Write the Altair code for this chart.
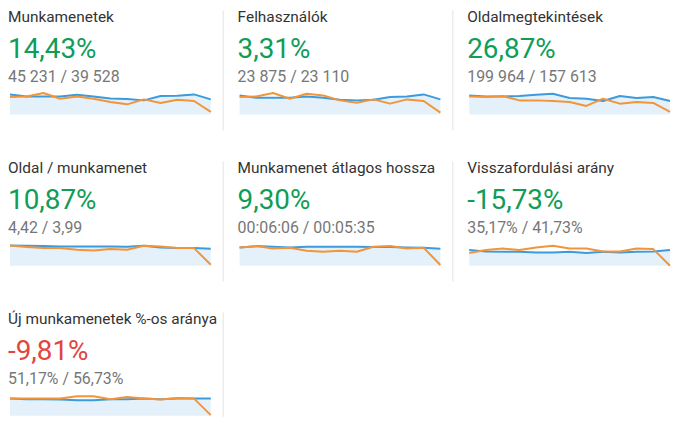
import altair as alt
import pandas as pd

titles = ["Munkamenetek", "Felhasználók", "Oldalmegtekintések", "Oldal / munkamenet",
          "Munkamenet átlagos hossza", "Visszafordulási arány", "Új munkamenetek %-os aránya"]
changes = ["14,43%", "3,31%", "26,87%", "10,87%", "9,30%", "-15,73%", "-9,81%"]
change_good = [True, True, True, True, True, True, False]
compare = ["45 231 / 39 528", "23 875 / 23 110", "199 964 / 157 613", "4,42 / 3,99",
           "00:06:06 / 00:05:35", "35,17% / 41,73%", "51,17% / 56,73%"]

days = list(range(13))

current_1 = [20.3, 18.3, 18.3, 18.3, 20.0, 18.3, 16.3, 15.7, 14.3, 18.7, 19.0, 20.3, 15.3]
previous_1 = [17.7, 18.3, 21.7, 16.0, 18.3, 16.0, 12.7, 10.3, 15.3, 11.7, 15.0, 13.7, 2.7]
current_2 = [19.3, 17.0, 17.0, 17.0, 18.3, 17.0, 15.0, 14.3, 15.0, 17.7, 18.3, 20.3, 15.3]
previous_2 = [17.7, 18.3, 21.7, 16.0, 21.0, 19.3, 14.3, 12.0, 15.3, 11.0, 15.3, 13.7, 2.0]
current_3 = [19.3, 18.3, 18.3, 18.7, 20.0, 21.0, 16.7, 16.0, 13.7, 18.7, 16.7, 17.7, 13.7]
previous_3 = [18.3, 17.7, 18.7, 14.3, 14.3, 13.7, 12.7, 8.7, 16.0, 11.0, 12.7, 11.7, 2.7]
current_4 = [20.3, 20.0, 19.7, 19.3, 19.3, 19.3, 19.3, 19.0, 20.0, 18.3, 17.7, 17.7, 17.0]
previous_4 = [20.3, 18.7, 17.7, 17.7, 16.0, 15.3, 16.7, 16.0, 20.0, 19.3, 17.7, 17.7, 1.0]
current_5 = [18.3, 19.7, 19.0, 18.3, 19.0, 19.0, 19.0, 19.0, 18.7, 18.7, 18.3, 18.0, 17.0]
previous_5 = [18.3, 19.7, 17.3, 18.0, 15.0, 14.0, 15.0, 14.0, 19.0, 19.7, 17.3, 18.0, 0.7]
current_6 = [15.7, 14.3, 14.0, 14.0, 13.3, 13.3, 14.0, 12.7, 14.0, 13.3, 14.0, 14.3, 15.7]
previous_6 = [12.7, 15.7, 17.3, 15.7, 18.3, 20.0, 17.3, 17.3, 14.3, 14.3, 17.3, 16.7, 0.0]
current_7 = [17.3, 16.7, 16.7, 16.3, 15.7, 15.7, 16.7, 16.7, 17.3, 16.7, 17.3, 17.3, 17.3]
previous_7 = [17.3, 17.3, 17.3, 17.3, 19.7, 19.7, 16.7, 19.0, 17.3, 16.3, 18.0, 17.3, 0.7]

currents = [current_1, current_2, current_3, current_4, current_5, current_6, current_7]
previouses = [previous_1, previous_2, previous_3, previous_4, previous_5, previous_6, previous_7]

BLUE = "#3d9bdb"
ORANGE = "#f2953a"
FILL = "#e4f1fb"
GREEN = "#0f9d58"
RED = "#e2453c"
FONT = "Roboto"


def panel(i, width, height, border, spark_bottom):
    df = pd.DataFrame({"day": days, "current": currents[i], "previous": previouses[i]})
    xs = alt.Scale(domain=[0, 12], range=[1, 203])
    ys = alt.Scale(domain=[0, 22], range=[spark_bottom, spark_bottom - 22])
    x = alt.X("day:Q", axis=None, scale=xs)
    base = alt.Chart(df)
    area = base.mark_area(color=FILL, opacity=1).encode(
        x=x, y=alt.Y("current:Q", axis=None, scale=ys))
    blue = base.mark_line(color=BLUE, strokeWidth=2, strokeJoin="round").encode(
        x=x, y=alt.Y("current:Q", axis=None, scale=ys))
    orange = base.mark_line(color=ORANGE, strokeWidth=2, strokeJoin="round").encode(
        x=x, y=alt.Y("previous:Q", axis=None, scale=ys))

    info = alt.Chart(pd.DataFrame({"title": [titles[i]], "change": [changes[i]],
                                   "compare": [compare[i]]}))
    t_title = info.mark_text(align="left", baseline="alphabetic", font=FONT, fontSize=15.5,
                             color="#333333").encode(x=alt.value(-1), y=alt.value(13), text="title:N")
    t_change = info.mark_text(align="left", baseline="alphabetic", font=FONT, fontSize=28,
                              color=GREEN if change_good[i] else RED).encode(
        x=alt.value(-1), y=alt.value(49), text="change:N")
    t_compare = info.mark_text(align="left", baseline="alphabetic", font=FONT, fontSize=16,
                               color="#777777").encode(x=alt.value(-1), y=alt.value(73), text="compare:N")
    layers = [area, blue, orange, t_title, t_change, t_compare]
    if border:
        rule = info.mark_rule(color="#e3e3e3", strokeWidth=1).encode(
            x=alt.value(width - 0.5), y=alt.value(1), y2=alt.value(height + 2))
        layers.append(rule)
    return alt.layer(*layers).properties(width=width, height=height)


panels = [
    panel(0, 216, 120, True, 106), panel(1, 216, 120, True, 106), panel(2, 205, 120, False, 106),
    panel(3, 216, 120, True, 106), panel(4, 216, 120, True, 106), panel(5, 205, 120, False, 106),
    panel(6, 216, 104, True, 105),
]

chart = alt.concat(*panels, columns=3, spacing={"row": 32, "column": 15}, bounds="flush",
                   padding=0, background="white").configure_view(strokeWidth=0)

chart.save("out.html", embed_options={"renderer": "svg", "actions": False})
